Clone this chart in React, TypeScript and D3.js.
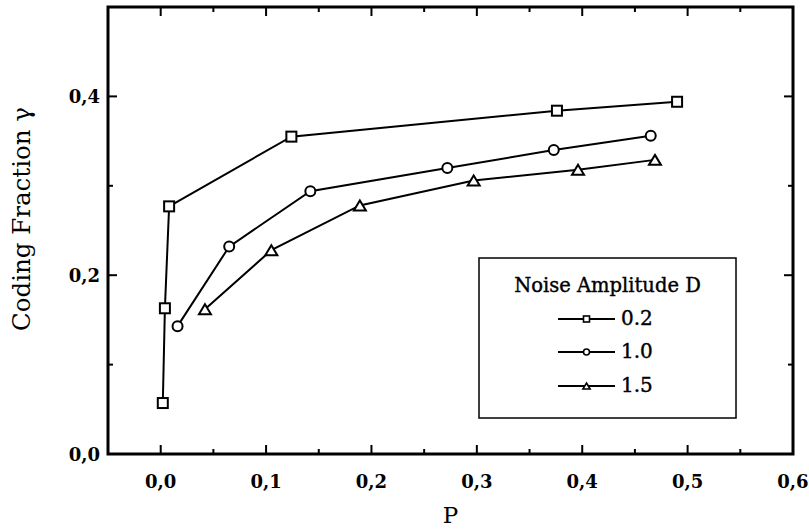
import React from "react";
import * as d3 from "d3";

// Coding fraction versus P for three noise amplitudes
const seriesLabels = ["0.2", "1.0", "1.5"];
const seriesShapes = ["square", "circle", "triangle"];

const pSquare = [0.002, 0.004, 0.008, 0.124, 0.376, 0.49];
const gammaSquare = [0.057, 0.163, 0.277, 0.355, 0.384, 0.394];

const pCircle = [0.016, 0.065, 0.142, 0.272, 0.373, 0.465];
const gammaCircle = [0.143, 0.232, 0.294, 0.32, 0.34, 0.356];

const pTriangle = [0.042, 0.105, 0.189, 0.297, 0.396, 0.469];
const gammaTriangle = [0.162, 0.228, 0.278, 0.306, 0.318, 0.329];

const xMajorTicks = [0, 0.1, 0.2, 0.3, 0.4, 0.5, 0.6];
const xMinorTicks = [0.05, 0.15, 0.25, 0.35, 0.45, 0.55];
const yMajorTicks = [0, 0.2, 0.4];
const yMinorTicks = [0.1, 0.3, 0.5];

const W = 809;
const H = 529;
const left = 108;
const right = 793;
const top = 7;
const bottom = 454;

const FONT = "'DejaVu Serif', serif";

function Marker({ shape, x, y, s }: { shape: string; x: number; y: number; s: number }) {
  const common = { fill: "#fff", stroke: "#000", strokeWidth: s > 7 ? 2 : 1.6 };
  if (shape === "square") {
    return <rect x={x - s / 2} y={y - s / 2} width={s} height={s} {...common} />;
  }
  if (shape === "circle") {
    return <circle cx={x} cy={y} r={s / 2} {...common} />;
  }
  const w = s * 1.2;
  const h = s;
  const pts = [
    [x, y - h / 2],
    [x + w / 2, y + h / 2],
    [x - w / 2, y + h / 2],
  ];
  return <polygon points={pts.map((p) => p.join(",")).join(" ")} {...common} />;
}

export default function App() {
  const x = d3.scaleLinear().domain([-0.05, 0.6]).range([left, right]);
  const y = d3.scaleLinear().domain([0, 0.5]).range([bottom, top]);
  const fmt = (v: number) => d3.format(".1f")(v).replace(".", ",");

  const series = [
    { p: pSquare, g: gammaSquare },
    { p: pCircle, g: gammaCircle },
    { p: pTriangle, g: gammaTriangle },
  ];

  const line = d3
    .line<[number, number]>()
    .x((d) => x(d[0]))
    .y((d) => y(d[1]));

  const majorLen = 9;
  const minorLen = 5;

  // legend layout
  const lg = { x0: 479, y0: 258, x1: 736, y1: 418 };
  const rowY = [325, 358, 392];

  return (
    <svg
      width={W}
      height={H}
      style={{ position: "absolute", left: 0, top: 0, background: "#fff" }}
      fontFamily={FONT}
    >
      <rect x={0} y={0} width={W} height={H} fill="#fff" />

      {/* data lines */}
      {series.map((s, i) => (
        <path
          key={"l" + i}
          d={line(s.p.map((p, j) => [p, s.g[j]] as [number, number])) || ""}
          fill="none"
          stroke="#000"
          strokeWidth={2}
        />
      ))}
      {/* markers */}
      {series.map((s, i) =>
        s.p.map((p, j) => (
          <Marker key={"m" + i + "-" + j} shape={seriesShapes[i]} x={x(p)} y={y(s.g[j])} s={10} />
        ))
      )}

      {/* ticks on all four sides, pointing inward */}
      {xMajorTicks.map((t) => (
        <g key={"xM" + t}>
          <line x1={x(t)} x2={x(t)} y1={bottom} y2={bottom - majorLen} stroke="#000" strokeWidth={2} />
          <line x1={x(t)} x2={x(t)} y1={top} y2={top + majorLen} stroke="#000" strokeWidth={2} />
          <text x={x(t)} y={488} textAnchor="middle" fontSize={18} fontWeight="bold">
            {fmt(t)}
          </text>
        </g>
      ))}
      {xMinorTicks.map((t) => (
        <g key={"xm" + t}>
          <line x1={x(t)} x2={x(t)} y1={bottom} y2={bottom - minorLen} stroke="#000" strokeWidth={2} />
          <line x1={x(t)} x2={x(t)} y1={top} y2={top + minorLen} stroke="#000" strokeWidth={2} />
        </g>
      ))}
      {yMajorTicks.map((t) => (
        <g key={"yM" + t}>
          <line x1={left} x2={left + majorLen} y1={y(t)} y2={y(t)} stroke="#000" strokeWidth={2} />
          <line x1={right} x2={right - majorLen} y1={y(t)} y2={y(t)} stroke="#000" strokeWidth={2} />
          <text x={100} y={y(t) + 6.5} textAnchor="end" fontSize={18} fontWeight="bold">
            {fmt(t)}
          </text>
        </g>
      ))}
      {yMinorTicks.map((t) => (
        <g key={"ym" + t}>
          <line x1={left} x2={left + minorLen} y1={y(t)} y2={y(t)} stroke="#000" strokeWidth={2} />
          <line x1={right} x2={right - minorLen} y1={y(t)} y2={y(t)} stroke="#000" strokeWidth={2} />
        </g>
      ))}

      {/* frame */}
      <rect x={left} y={top} width={right - left} height={bottom - top} fill="none" stroke="#000" strokeWidth={3} />

      {/* axis titles */}
      <text x={(left + right) / 2} y={523} textAnchor="middle" fontSize={23}>
        P
      </text>
      <text transform={`translate(30, 219) rotate(-90)`} textAnchor="middle" fontSize={24.5}>
        Coding Fraction γ
      </text>

      {/* legend */}
      <rect
        x={lg.x0}
        y={lg.y0}
        width={lg.x1 - lg.x0}
        height={lg.y1 - lg.y0}
        fill="#fff"
        stroke="#000"
        strokeWidth={1.5}
      />
      <text
        x={(lg.x0 + lg.x1) / 2}
        y={292}
        textAnchor="middle"
        fontSize={19.5}
        stroke="#000"
        strokeWidth={0.4}
      >
        Noise Amplitude D
      </text>
      {seriesLabels.map((lab, i) => (
        <g key={"lg" + i}>
          <line x1={558} x2={615} y1={rowY[i] - 6} y2={rowY[i] - 6} stroke="#000" strokeWidth={2} />
          <Marker shape={seriesShapes[i]} x={586.5} y={rowY[i] - 6} s={6} />
          <text x={621} y={rowY[i]} fontSize={20} stroke="#000" strokeWidth={0.4}>
            {lab}
          </text>
        </g>
      ))}
    </svg>
  );
}
